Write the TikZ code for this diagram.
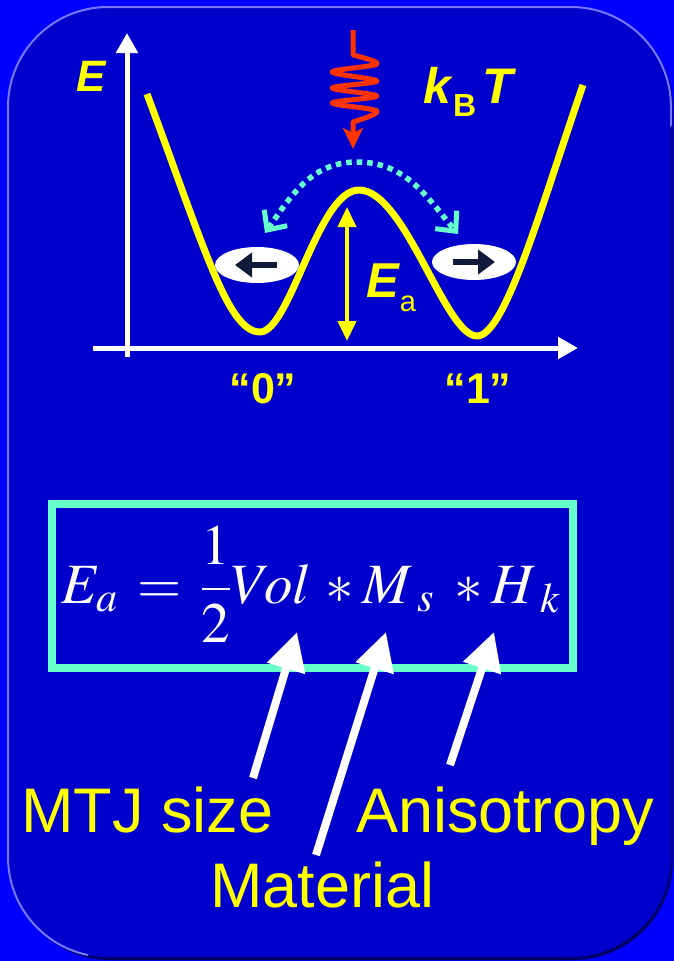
\documentclass[tikz,border=0pt]{standalone}
\usepackage{mathptmx}
\usepackage{fontspec}
\setmainfont{Liberation Serif}
\setsansfont{Liberation Sans}
\usepackage{tikz}
\usetikzlibrary{arrows.meta, shapes.geometric}
\definecolor{bgblue}{HTML}{0000FF}
\definecolor{panelblue}{HTML}{0000CC}
\definecolor{panelrim}{HTML}{7878FF}
\definecolor{panelshade}{HTML}{000066}
\definecolor{wellyellow}{HTML}{FFFF00}
\definecolor{hopcyan}{HTML}{66FFCC}
\definecolor{heatred}{HTML}{FF3300}
\definecolor{spinnavy}{HTML}{101A3A}
\newcommand{\setfs}[1]{\fontsize{#1}{#1}\selectfont}

\begin{document}
\begin{tikzpicture}[x=1pt, y=1pt,
  axisline/.style={white, line width=5pt, -{Triangle[length=20pt,width=21pt]}},
  ylabel/.style={text=wellyellow, inner sep=0pt, font=\sffamily\bfseries\itshape\setfs{#1}},
  bitlabel/.style={text=wellyellow, inner sep=0pt, font=\sffamily\bfseries\setfs{43}},
  partlabel/.style={text=wellyellow, inner sep=0pt, anchor=base west, font=\sffamily\setfs{63}},
  spinpod/.style={ellipse, fill=white, minimum width=84pt, minimum height=36pt, inner sep=0pt},
  spinarrow/.style={spinnavy, line width=6pt, -{Triangle[length=17pt,width=24pt]}},
  hopbarb/.tip={Straight Barb[length=15pt,width=28pt,line width=5pt]},
  pointer/.style={white, line width=8pt, -{Triangle[length=38pt,width=38pt]}}]
% background and panel
\fill[bgblue] (0,0) rectangle (674,-961);
\useasboundingbox (0,0) rectangle (674,-961);
\fill[panelshade, rounded corners=100pt] (10,-9) rectangle (673,-960);
\fill[panelblue, rounded corners=100pt] (8,-7) rectangle (671,-957);
\begin{scope}
\clip (0,0) -- (760,0) -- (0,-1080) -- cycle;
\draw[panelrim, line width=2pt, rounded corners=100pt] (8,-7) rectangle (671,-957);
\end{scope}

% energy landscape
\draw[wellyellow, line width=7pt, line join=round]
  (147,-94) .. controls (205,-250) and (228,-332) .. (260,-332)
  .. controls (290,-332) and (318,-190) .. (359,-190)
  .. controls (405,-190) and (445,-336) .. (477,-336)
  .. controls (505,-336) and (540,-210) .. (583,-85);
\coordinate (yfoot) at (127,-357);
\coordinate (ytip) at (127,-33);
\coordinate (xfoot) at (93,-348);
\coordinate (xtip) at (578,-348);
\draw[axisline] (yfoot) -- (ytip);
\draw[axisline] (xfoot) -- (xtip);
\node[ylabel=44, anchor=base west] (elabel) at (76,-91) {E};

% thermal kick
\coordinate (heattop) at (353,-30);
\coordinate (heattip) at (353,-149);
\draw[heatred, line width=5pt, line join=round, -{Stealth[length=21pt,width=20pt,inset=5pt]}]
  (heattop) -- plot[smooth, tension=0.55] coordinates {(353,-55) (377,-64) (332,-72) (377,-81)
  (332,-88) (377,-96) (332,-103) (377,-111) (353,-122)} -- (heattip);
\node[ylabel=50, anchor=base west] (kbt) at (423,-103)
  {k\kern2pt\raisebox{-13pt}{\setfs{32}\upshape B}\kern6pt T};

% hopping between the wells
\coordinate (hopleft) at (265,-233);
\coordinate (hoptop) at (357,-162);
\coordinate (hopright) at (458,-234);
\draw[hopcyan, line width=5.5pt, dash pattern=on 5.5pt off 5pt, {hopbarb}-{hopbarb}]
  (hopleft) to[out=55,in=180] (hoptop) to[out=0,in=130] (hopright);

% barrier height
\coordinate (barriertop) at (347,-207);
\coordinate (barrierfoot) at (347,-341);
\draw[wellyellow, line width=4pt, {Triangle[length=20pt,width=18pt]}-{Triangle[length=20pt,width=18pt]}]
  (barriertop) -- (barrierfoot);
\node[ylabel=49, anchor=base west] (ealabel) at (366,-297)
  {E\kern1pt\raisebox{-14pt}{\setfs{29}\mdseries\upshape a}};

% the two states
\node[spinpod] (pod0) at (257,-265) {};
\node[spinpod] (pod1) at (474,-262) {};
\draw[spinarrow] (277,-265) -- (235,-265);
\draw[spinarrow] (453,-262) -- (495,-262);
\node[bitlabel, anchor=base] (bit0) at (263,-403) {“0”};
\node[bitlabel, anchor=base] (bit1) at (478,-403) {“1”};

% barrier formula
\node[draw=hopcyan, line width=8pt, minimum width=521pt, minimum height=164pt, inner sep=0pt] (eqbox) at (312.5,-586) {};
\node[text=white, inner sep=0pt, anchor=base, font=\setfs{57}] (eqn) at (311,-603)
  {$\displaystyle E_a\mkern2mu=\mkern2mu\frac{1}{2}Vol\mkern2mu*M_{\hspace{9pt}s}\mkern4mu*H_{\hspace{9pt}k}$};

% what sets each factor
\node[partlabel] (mtj) at (21,-832) {MTJ size};
\node[partlabel] (aniso) at (356,-832) {Anisotropy};
\node[partlabel] (mat) at (210,-907) {Material};
\coordinate (voltip) at (297,-632);
\coordinate (mstip) at (386,-632);
\coordinate (hktip) at (494,-632);
\draw[pointer] (253,-778) -- (voltip);
\draw[pointer] (316,-855) -- (mstip);
\draw[pointer] (450,-765) -- (hktip);
\end{tikzpicture}
\end{document}
